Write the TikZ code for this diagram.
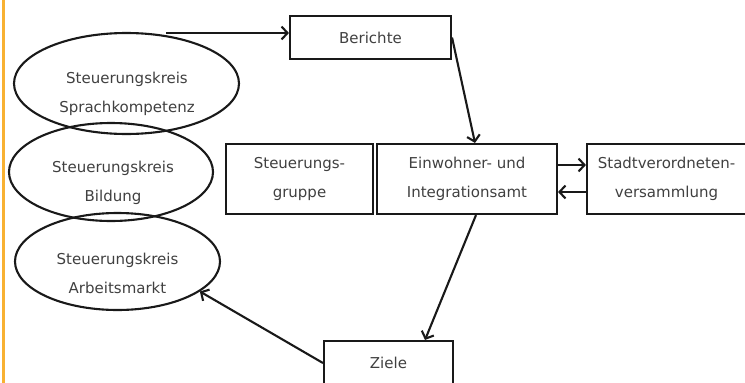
\documentclass[tikz,border=0pt]{standalone}
\usepackage{fontspec}
\setmainfont{DejaVu Sans}
\usetikzlibrary{shapes.geometric,arrows.meta}
\definecolor{orangeline}{HTML}{F8B132}
\definecolor{textgray}{HTML}{404040}
\begin{document}
\begin{tikzpicture}[x=1pt,y=-1pt,
  kreis/.style={draw=black!90,ellipse,line width=2.1pt,inner sep=0pt},
  kasten/.style={draw=black!90,rectangle,line width=2.1pt,inner sep=0pt,text=textgray,align=center,font={\fontsize{15}{29}\selectfont}},
  txt/.style={text=textgray,align=center,font={\fontsize{15}{29}\selectfont}},
  pfeil/.style={draw=black!90,line width=2.1pt,-{Straight Barb[length=6pt,width=13pt]}}]
\useasboundingbox (0,0) rectangle (745,383);
\clip (0,0) rectangle (745,383);
\draw[line width=3pt,color=orangeline](3.5,0)--(3.5,383);
\node[kreis,minimum width=225pt,minimum height=101pt](sprach) at (126.5,83.5) {};
\node[kreis,minimum width=204pt,minimum height=98pt](bildung) at (111,172) {};
\node[kreis,minimum width=205pt,minimum height=97pt](arbeit) at (117.5,261.5) {};
\node[txt](sprachtxt) at (127,94) {Steuerungskreis\\Sprachkompetenz};
\node[txt](bildungtxt) at (113,183) {Steuerungskreis\\Bildung};
\node[txt](arbeittxt) at (117.5,273) {Steuerungskreis\\Arbeitsmarkt};
\node[kasten,minimum width=161pt,minimum height=43pt](berichte) at (370.5,37.5) {Berichte};
\node[kasten,minimum width=147pt,minimum height=70pt](gruppe) at (299.5,179) {Steuerungs-\\gruppe};
\node[kasten,minimum width=180pt,minimum height=70pt](amt) at (467,179) {Einwohner- und\\Integrationsamt};
\node[kasten,minimum width=159pt,minimum height=70pt](stadt) at (666.5,179) {Stadtverordneten-\\versammlung};
\node[kasten,minimum width=129pt,minimum height=44pt](ziele) at (388.5,363) {Ziele};
\coordinate (start) at (166,33);
\draw[pfeil](start)--(start -| berichte.west);
\draw[pfeil](berichte.east)--([xshift=8pt]amt.north);
\draw[pfeil]([yshift=14pt]amt.east)--([yshift=14pt]stadt.west);
\draw[pfeil]([yshift=-13pt]stadt.west)--([yshift=-13pt]amt.east);
\draw[pfeil]([xshift=9pt]amt.south)--([xshift=36.5pt]ziele.north);
\draw[pfeil](ziele.west)--(arbeit.-20);
\end{tikzpicture}
\end{document}
